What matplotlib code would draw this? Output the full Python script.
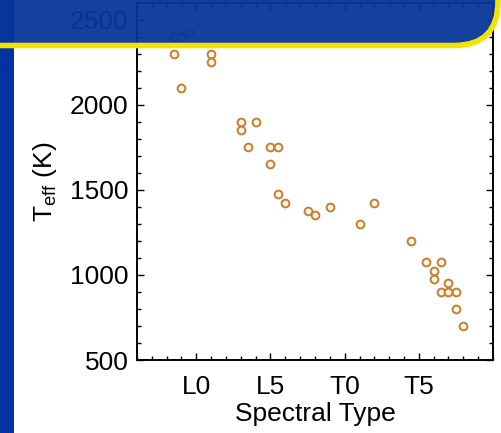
import matplotlib
matplotlib.use("Agg")
import matplotlib.pyplot as plt
from matplotlib.patches import FancyBboxPatch, Rectangle
from matplotlib.ticker import FixedLocator, MultipleLocator

plt.rcParams['font.family'] = ['Liberation Sans', 'DejaVu Sans']
plt.rcParams['mathtext.fontset'] = 'custom'
plt.rcParams['mathtext.rm'] = 'Liberation Sans'

# spectral type as a number: M0 = 0, L0 = 10, T0 = 20
spt = [8.5, 9, 9.5, 8.5, 11, 11, 9, 13, 13, 14, 13.5, 15, 15.5, 15, 15.5, 16,
       17.5, 18, 19, 21, 22, 24.5, 25.5, 26.5, 26, 26, 27, 26.5, 27, 27.5, 27.5, 28]
teff = [2400, 2400, 2420, 2300, 2300, 2250, 2100, 1900, 1850, 1900, 1750, 1750, 1750, 1650, 1475, 1425,
        1375, 1350, 1400, 1300, 1425, 1200, 1075, 1075, 1025, 975, 950, 900, 900, 900, 800, 700]

tick_pos = [10, 15, 20, 25]
tick_labels = ['L0', 'L5', 'T0', 'T5']

W, H = 502, 433
fig = plt.figure(figsize=(W / 100, H / 100), dpi=100)
fig.patch.set_facecolor('white')

ax = fig.add_axes([137 / W, 1 - 360 / H, (493 - 137) / W, (360 - 2.7) / H])
ax.plot(spt, teff, 'o', ms=5.6, mfc='#FFF6DF', mec='#C47F35', mew=1.4, ls='none')

ax.set_xlim(6, 30)
ax.set_ylim(500, 2600)
ax.xaxis.set_major_locator(FixedLocator(tick_pos))
ax.set_xticklabels(tick_labels)
ax.xaxis.set_minor_locator(MultipleLocator(1))
ax.yaxis.set_major_locator(MultipleLocator(500))
ax.yaxis.set_minor_locator(MultipleLocator(100))
ax.tick_params(which='both', direction='in', top=True, right=True, width=1.0, labelsize=19)
ax.tick_params(which='major', length=5)
ax.tick_params(which='minor', length=3)
ax.tick_params(axis='x', pad=11)
ax.tick_params(axis='y', pad=6)
for s in ax.spines.values():
    s.set_linewidth(1.4)

ax.set_xlabel('Spectral Type', fontsize=19, labelpad=2)
ax.set_ylabel(r'T$_{\rm eff}$ (K)', fontsize=19, labelpad=8)

# slide decoration drawn in pixel coordinates on top of the plot
deco = fig.add_axes([0, 0, 1, 1], zorder=5)
deco.set_xlim(0, W)
deco.set_ylim(H, 0)
deco.axis('off')
deco.add_patch(Rectangle((0, 0), 14, H, facecolor='#0033A0', edgecolor='none'))
banner = FancyBboxPatch((-80, -150), 578, 195.5,
                        boxstyle='round,pad=0,rounding_size=44',
                        facecolor=(0.03, 0.21, 0.60, 0.95), edgecolor='#F2E400',
                        linewidth=4.0)
deco.add_patch(banner)

fig.savefig('out.png', dpi=100)
